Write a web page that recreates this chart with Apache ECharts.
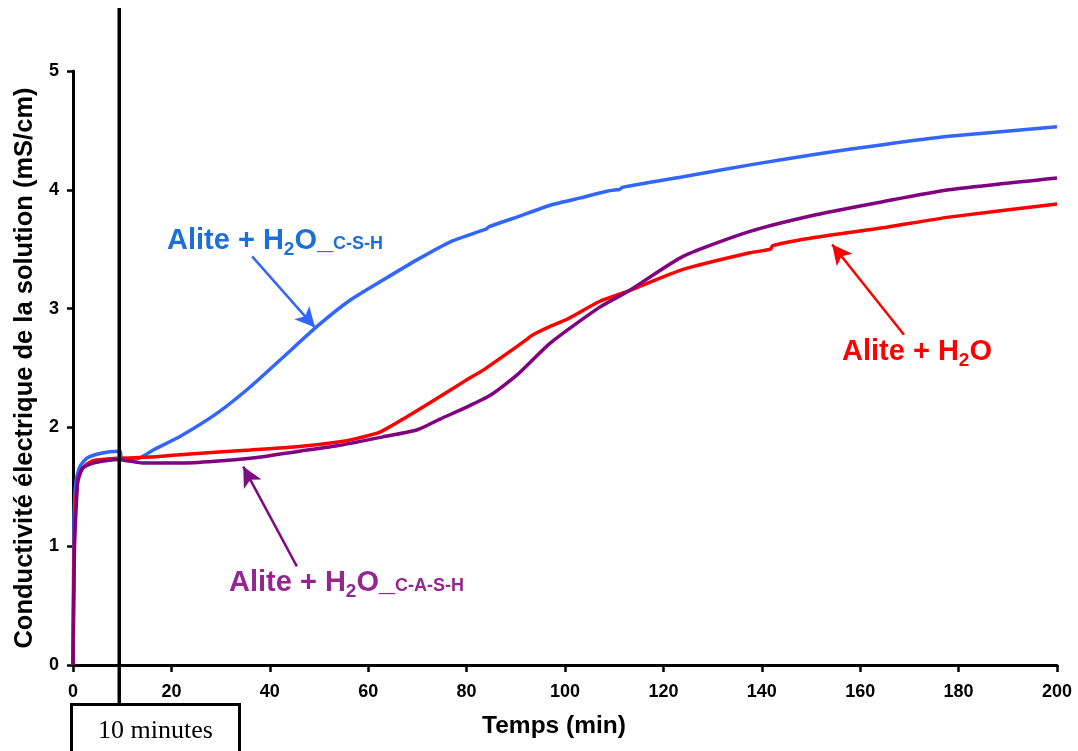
<!DOCTYPE html>
<html><head><meta charset="utf-8">
<script src="https://cdn.jsdelivr.net/npm/echarts/dist/echarts.min.js"></script>
<style>html,body{margin:0;padding:0;background:#fff}#c{width:1078px;height:751px}</style>
</head><body><div id="c"></div>
<script>
// ---- data ----
const xTicks = [0, 20, 40, 60, 80, 100, 120, 140, 160, 180, 200];
const yTicks = [0, 1, 2, 3, 4, 5];

const cshTime = [0, 0.2, 0.6, 1.4, 2.8, 5.5, 9.2, 9.6, 9.9, 12.9, 16.3, 22, 29.3, 36, 42.7, 49.6, 56.3, 63, 69.9, 76.6, 83.3, 84.0, 84.6, 90.2, 97, 103, 110.5, 111.0, 111.6, 124, 137.6, 151, 164.6, 178, 200];
const cshCond = [0, 1.2, 1.55, 1.67, 1.74, 1.78, 1.80, 1.80, 1.74, 1.735, 1.81, 1.93, 2.12, 2.34, 2.59, 2.85, 3.07, 3.24, 3.41, 3.56, 3.66, 3.67, 3.69, 3.77, 3.87, 3.93, 4.00, 4.00, 4.02, 4.11, 4.21, 4.30, 4.38, 4.45, 4.53];

const h2oTime = [0, 0.3, 0.8, 1.5, 2.5, 4.1, 9.2, 15.6, 21.7, 36, 46, 54.3, 58, 62.4, 67.9, 74.6, 80, 83.3, 90.2, 92.5, 93.5, 97, 100.4, 107, 113, 124, 137.6, 141.8, 142.2, 151, 164.6, 178, 200];
const h2oCond = [0, 1.1, 1.5, 1.62, 1.68, 1.72, 1.74, 1.75, 1.77, 1.81, 1.84, 1.88, 1.91, 1.96, 2.09, 2.26, 2.40, 2.48, 2.68, 2.75, 2.78, 2.85, 2.91, 3.06, 3.15, 3.33, 3.47, 3.50, 3.53, 3.60, 3.68, 3.77, 3.88];

const casTime = [0, 0.3, 0.8, 1.0, 2.0, 4.1, 9.2, 11, 14.2, 21.7, 36, 46, 54.3, 63, 70, 74.6, 80, 84.8, 90.2, 97, 107, 113, 124, 137.6, 151, 164.6, 178, 200];
const casCond = [0, 1.0, 1.45, 1.56, 1.66, 1.70, 1.73, 1.72, 1.70, 1.70, 1.74, 1.80, 1.85, 1.92, 1.98, 2.07, 2.17, 2.27, 2.44, 2.71, 3.01, 3.15, 3.44, 3.65, 3.79, 3.90, 4.00, 4.10];

const markerTime = 9.4; // "10 minutes" vertical line

function pairs(t, v) { return t.map((x, i) => [x, v[i]]); }

const FONT = '"Liberation Sans", Arial, sans-serif';
const chart = echarts.init(document.getElementById('c'), null, {renderer: 'canvas'});

function arrow(color, from, to) {
  return {
    silent: true, animation: false,
    symbol: ['none', 'arrow'], symbolSize: [15, 20],
    lineStyle: {color: color, width: 2.5, type: 'solid'},
    label: {show: false}, emphasis: {disabled: true},
    data: [[{coord: from}, {coord: to}]]
  };
}

chart.setOption({
  animation: false,
  backgroundColor: '#fff',
  grid: {left: 73, right: 21, top: 71, bottom: 86, containLabel: false},
  xAxis: {
    type: 'value', min: 0, max: 200, interval: 20,
    name: 'Temps (min)', nameLocation: 'middle', nameGap: 49,
    nameTextStyle: {fontFamily: FONT, fontWeight: 'bold', fontSize: 24.5, color: '#000', padding: [0, 22, 0, 0]},
    axisLine: {show: true, onZero: false, lineStyle: {color: '#000', width: 3}},
    axisTick: {show: true, length: 7, lineStyle: {color: '#000', width: 2.5}},
    axisLabel: {fontFamily: FONT, fontWeight: 'bold', fontSize: 18, color: '#000', margin: 18,
      formatter: v => xTicks.includes(v) ? String(v) : ''},
    splitLine: {show: false}
  },
  yAxis: {
    type: 'value', min: 0, max: 5, interval: 1,
    name: 'Conductivité électrique de la solution (mS/cm)', nameLocation: 'middle', nameGap: 35,
    nameRotate: 90,
    nameTextStyle: {fontFamily: FONT, fontWeight: 'bold', fontSize: 25.5, color: '#000'},
    axisLine: {show: true, onZero: false, lineStyle: {color: '#000', width: 3}},
    axisTick: {show: true, length: 6, lineStyle: {color: '#000', width: 2.5}},
    axisLabel: {fontFamily: FONT, fontWeight: 'bold', fontSize: 18, color: '#000', margin: 14,
      formatter: v => yTicks.includes(v) ? String(v) : ''},
    splitLine: {show: false}
  },
  series: [
    {name: 'Alite + H2O_C-S-H', type: 'line', data: pairs(cshTime, cshCond), showSymbol: false,
     lineStyle: {color: '#3366FF', width: 3.5}, itemStyle: {color: '#3366FF'}, smooth: 0.2, z: 2,
     markLine: arrow('#3366FF', [36.4, 3.44], [49.2, 2.84])},
    {name: 'Alite + H2O', type: 'line', data: pairs(h2oTime, h2oCond), showSymbol: false,
     lineStyle: {color: '#FF0000', width: 3.5}, itemStyle: {color: '#FF0000'}, smooth: 0.2, z: 3,
     markLine: arrow('#FF0000', [168.9, 2.78], [154.3, 3.54])},
    {name: 'Alite + H2O_C-A-S-H', type: 'line', data: pairs(casTime, casCond), showSymbol: false,
     lineStyle: {color: '#800080', width: 3.5}, itemStyle: {color: '#800080'}, smooth: 0.2, z: 4,
     markLine: arrow('#7B0C82', [45.5, 0.83], [34.6, 1.67])}
  ]
});

function richLabel(color) {
  const base = {fill: color, fontFamily: FONT, fontWeight: 'bold'};
  return {
    m: Object.assign({}, base, {fontSize: 29, lineHeight: 32}),
    s: Object.assign({}, base, {fontSize: 19, lineHeight: 21}, {padding: [18, 0, 0, 0]}),
    c: Object.assign({}, base, {fontSize: 18, lineHeight: 21}, {padding: [6, 0, 0, 0]})
  };
}

const lineX = chart.convertToPixel({gridIndex: 0}, [markerTime, 0])[0];

chart.setOption({
  graphic: [
    {type: 'line', shape: {x1: lineX, y1: 8, x2: lineX, y2: 704}, style: {stroke: '#000', lineWidth: 3.5}, z: 100},
    {type: 'rect', shape: {x: 71.5, y: 704.5, width: 168, height: 60}, style: {fill: '#fff', stroke: '#000', lineWidth: 3}, z: 100},
    {type: 'text', x: 155.5, y: 731, z: 101,
     style: {text: '10 minutes', font: '26px "Liberation Serif", "Times New Roman", serif', fill: '#000', align: 'center', verticalAlign: 'middle'}},
    {type: 'text', x: 167, y: 241, z: 101,
     style: {text: '{m|Alite + H}{s|2}{m|O_}{c|C-S-H}', rich: richLabel('#1C6ED8'), align: 'left', verticalAlign: 'middle'}},
    {type: 'text', x: 229, y: 583, z: 101,
     style: {text: '{m|Alite + H}{s|2}{m|O_}{c|C-A-S-H}', rich: richLabel('#93278F'), align: 'left', verticalAlign: 'middle'}},
    {type: 'text', x: 842, y: 352, z: 101,
     style: {text: '{m|Alite + H}{s|2}{m|O}', rich: richLabel('#FF0000'), align: 'left', verticalAlign: 'middle'}}
  ]
});
</script>
</body></html>
